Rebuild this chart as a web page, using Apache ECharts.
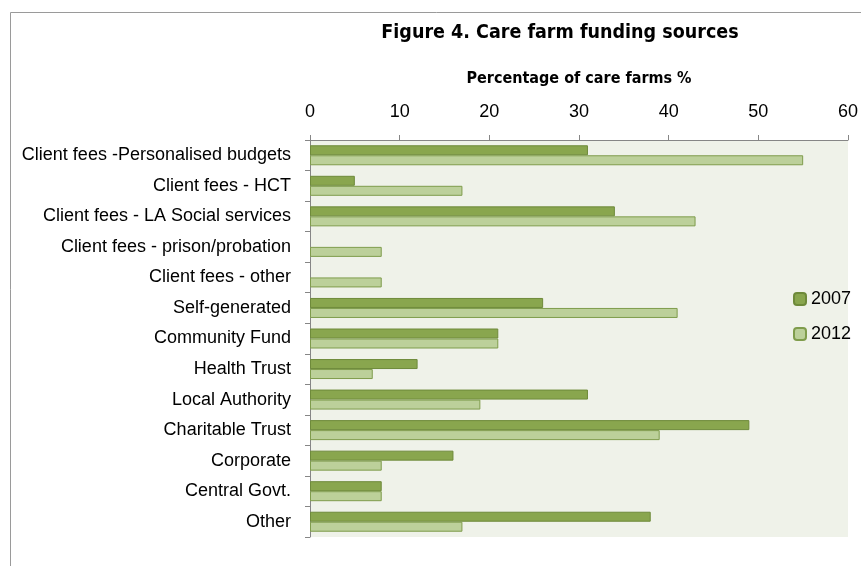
<!DOCTYPE html>
<html>
<head>
<meta charset="utf-8">
<script src="https://cdn.jsdelivr.net/npm/echarts@6/dist/echarts.min.js"></script>
<style>html,body{margin:0;padding:0;background:#fff;}#c{width:861px;height:566px;}</style>
</head>
<body>
<div id="c"></div>
<script>
var categories = ["Client fees -Personalised budgets","Client fees - HCT","Client fees - LA Social services","Client fees - prison/probation","Client fees - other","Self-generated","Community Fund","Health Trust","Local Authority","Charitable Trust","Corporate","Central Govt.","Other"];
var values2007 = [31, 5, 34, null, null, 26, 21, 12, 31, 49, 16, 8, 38];
var values2012 = [55, 17, 43, 8, 8, 41, 21, 7, 19, 39, 8, 8, 17];
var seriesNames = ["2007", "2012"];
var xTicks = {min: 0, max: 60, interval: 10};

var chart = echarts.init(document.getElementById('c'), null, {renderer: 'canvas'});
var labelFont = 'Liberation Sans';
var condFont = '"DejaVu Sans Condensed", "Roboto Condensed", Roboto, sans-serif';
chart.setOption({
  animation: false,
  backgroundColor: '#ffffff',
  graphic: [{
    type: 'rect', shape: {x: 10.5, y: 12.5, width: 900, height: 600},
    style: {fill: 'none', stroke: '#9a9a9a', lineWidth: 1}, z: -1
  }],
  title: {
    text: 'Figure 4. Care farm funding sources',
    left: 555, top: 18, textAlign: 'center',
    textStyle: {fontFamily: condFont, fontWeight: 'bold', fontSize: 19.5, color: '#000'}
  },
  grid: {left: 310, right: 12, top: 140, bottom: 29, show: true, backgroundColor: '#EFF2E9', borderWidth: 0},
  legend: {
    orient: 'vertical', left: 788, top: 285, itemWidth: 12, itemHeight: 12, itemGap: 17,
    textStyle: {fontFamily: labelFont, fontSize: 18, color: '#000'},
    data: seriesNames
  },
  xAxis: {
    type: 'value', position: 'top', min: xTicks.min, max: xTicks.max, interval: xTicks.interval,
    name: 'Percentage of care farms %', nameLocation: 'middle', nameGap: 53,
    nameTextStyle: {fontFamily: condFont, fontWeight: 'bold', fontSize: 16, color: '#000'},
    axisLine: {show: true, lineStyle: {color: '#868686', width: 1}},
    axisTick: {show: true, length: 5, lineStyle: {color: '#868686'}},
    axisLabel: {fontFamily: labelFont, fontSize: 18, color: '#000', margin: 19},
    splitLine: {show: false}
  },
  yAxis: {
    type: 'category', inverse: true, data: categories,
    axisLine: {show: true, lineStyle: {color: '#868686', width: 1}},
    axisTick: {show: true, length: 5, lineStyle: {color: '#868686'}},
    axisLabel: {fontFamily: labelFont, fontSize: 18, color: '#000', margin: 19}
  },
  series: [
    {name: seriesNames[0], type: 'bar', data: values2007, barWidth: 10, barGap: '0%',
     itemStyle: {color: '#89A64E', borderColor: '#6E8A3A', borderWidth: 1}},
    {name: seriesNames[1], type: 'bar', data: values2012, barWidth: 10, barGap: '0%',
     itemStyle: {color: '#BCD09A', borderColor: '#7F9C4C', borderWidth: 1}}
  ]
});
</script>
</body>
</html>
